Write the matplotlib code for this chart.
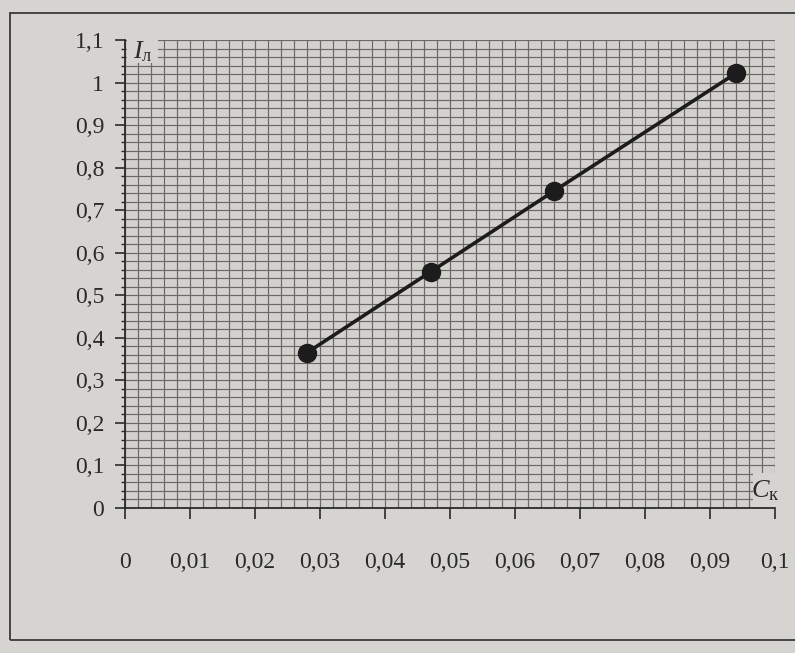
import numpy as np
import matplotlib.pyplot as plt
from matplotlib.patches import Rectangle
from matplotlib.ticker import MultipleLocator

# values
conc = [0.028, 0.047, 0.066, 0.094]      # C_к
current = [0.365, 0.555, 0.745, 1.022]   # I_л

x_ticks = [0, 0.01, 0.02, 0.03, 0.04, 0.05, 0.06, 0.07, 0.08, 0.09, 0.1]
x_labels = ['0', '0,01', '0,02', '0,03', '0,04', '0,05', '0,06', '0,07', '0,08', '0,09', '0,1']
y_ticks = [0, 0.1, 0.2, 0.3, 0.4, 0.5, 0.6, 0.7, 0.8, 0.9, 1.0, 1.1]
y_labels = ['0', '0,1', '0,2', '0,3', '0,4', '0,5', '0,6', '0,7', '0,8', '0,9', '1', '1,1']

paper = '#d6d4d1'
ink = '#2a2a2a'

plt.rcParams['font.family'] = ['Liberation Serif', 'DejaVu Serif']
plt.rcParams['mathtext.fontset'] = 'custom'
plt.rcParams['mathtext.rm'] = 'Liberation Serif'
plt.rcParams['mathtext.it'] = 'Liberation Serif:italic'

fig = plt.figure(figsize=(7.95, 6.53), dpi=100, facecolor=paper)
ax = fig.add_axes([125/795, 145/653, 650/795, 468/653])
ax.set_facecolor('#d3d1ce')
ax.set_xlim(0, 0.1)
ax.set_ylim(0, 1.1)

ax.set_xticks(x_ticks)
ax.set_xticklabels(x_labels)
ax.set_yticks(y_ticks)
ax.set_yticklabels(y_labels)
ax.xaxis.set_minor_locator(MultipleLocator(0.002))
ax.yaxis.set_minor_locator(MultipleLocator(0.02))

ax.grid(which='both', color='#6a6764', lw=0.85)
ax.set_axisbelow(True)

for s in ['top', 'right']:
    ax.spines[s].set_visible(False)
for s in ['left', 'bottom']:
    ax.spines[s].set_color(ink)
    ax.spines[s].set_linewidth(1.3)

ax.tick_params(axis='x', which='major', direction='out', length=8, width=1.2,
               pad=24, labelsize=17, colors=ink)
ax.tick_params(axis='x', which='minor', length=0)
ax.tick_params(axis='y', which='major', direction='out', length=7, width=1.2,
               pad=8, labelsize=17, colors=ink)
ax.tick_params(axis='y', which='minor', direction='out', length=3, width=1, colors=ink)

# blank corners of the grid paper for the axis labels
ax.add_patch(Rectangle((0.0003, 1.045), 0.0047, 0.06, facecolor=paper, edgecolor='none', zorder=1))
ax.add_patch(Rectangle((0.0966, -0.002), 0.004, 0.084, facecolor=paper, edgecolor='none',
                       zorder=1, clip_on=False))

ax.plot(conc, current, color='#1c1c1c', lw=2.6, marker='o', ms=13, zorder=3, clip_on=False)

ax.text(0.0012, 1.072, r'$I_{\mathregular{л}}$', fontsize=19, color=ink, va='center', ha='left')
ax.text(0.0985, 0.04, r'$C_{\mathregular{к}}$', fontsize=19, color=ink, va='center', ha='center')

# frame of the page
fig.add_artist(Rectangle((10/795, 13/653), 1.0, 627/653, transform=fig.transFigure,
                         fill=False, edgecolor='#3a3a3a', lw=1.3))

plt.savefig('out.png', dpi=100, facecolor=paper)
